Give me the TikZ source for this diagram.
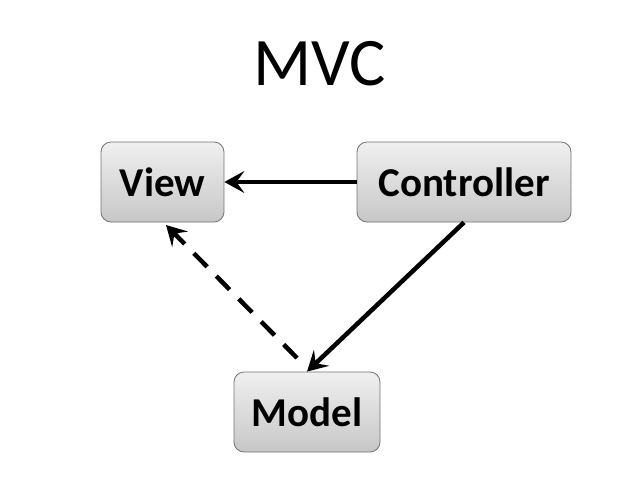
\documentclass[tikz,border=0pt]{standalone}
\usepackage{fontspec}
\setmainfont{Carlito}
\usetikzlibrary{arrows.meta}
\begin{document}
\begin{tikzpicture}[x=1pt,y=-1pt,
  box/.style={draw=black!55, line width=0.8pt, rounded corners=10pt, top color=black!6, bottom color=black!22, font=\bfseries\fontsize{41}{41}\selectfont, inner sep=0pt},
  conn/.style={line width=4.5pt, -{Stealth[length=20pt,width=22pt,inset=8pt]}},
  dconn/.style={conn, dash pattern=on 19pt off 13pt}]
\useasboundingbox (0,0) rectangle (640,480);
\node (title) at (320,64) {\fontsize{68}{68}\selectfont MVC};
\node[box, minimum width=123pt, minimum height=80pt] (view) at (162.5,182) {View};
\node[box, minimum width=214pt, minimum height=80pt] (ctrl) at (464,182) {Controller};
\node[box, minimum width=146pt, minimum height=80pt] (model) at (307,412) {Model};
\draw[conn] (ctrl.west) -- (view.east);
\draw[conn] (ctrl.south) -- (model.north);
\coordinate (ms) at (297,358);
\coordinate (ve) at (166,225);
\draw[dconn] (ms) -- (ve);
\end{tikzpicture}
\end{document}
